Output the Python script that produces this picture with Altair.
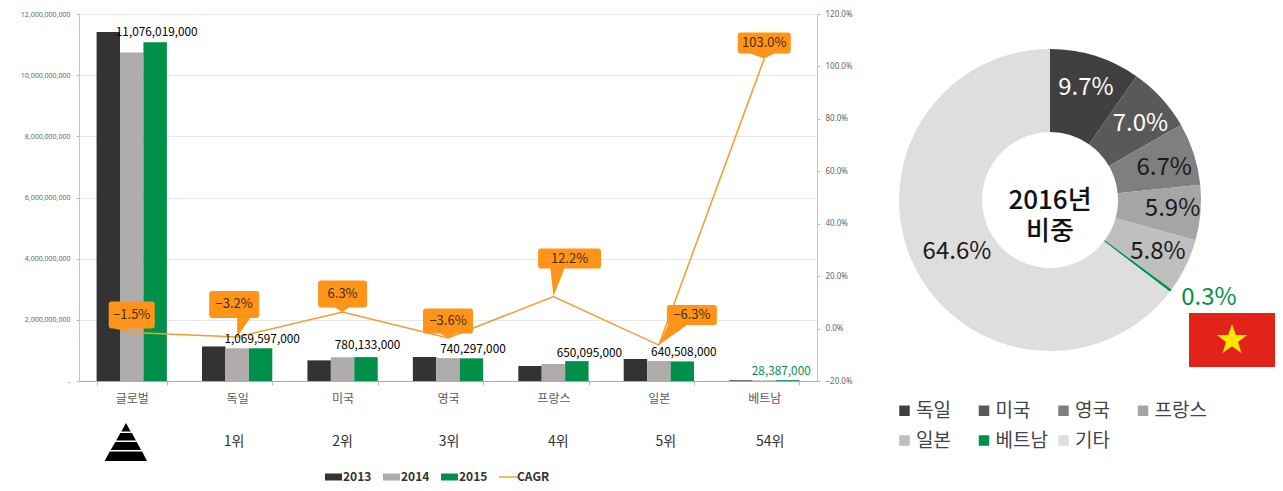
import altair as alt
import pandas as pd

# ---------- data ----------
categories = ["글로벌", "독일", "미국", "영국", "프랑스", "일본", "베트남"]
ranks = ["", "1위", "2위", "3위", "4위", "5위", "54위"]
v2013 = [11410000000, 1130000000, 675000000, 785000000, 490000000, 720000000, 23000000]
v2014 = [10740000000, 1070000000, 780000000, 750000000, 556000000, 655000000, 20000000]
v2015 = [11076019000, 1069597000, 780133000, 740297000, 650095000, 640508000, 28387000]
cagr = [-1.5, -3.2, 6.3, -3.6, 12.2, -6.3, 103.0]
cagr_text = ["−1.5%", "−3.2%", "6.3%", "−3.6%", "12.2%", "−6.3%", "103.0%"]
years = ["2013", "2014", "2015"]
share_names = ["독일", "미국", "영국", "프랑스", "일본", "베트남", "기타"]
share_vals = [9.7, 7.0, 6.7, 5.9, 5.8, 0.3, 64.6]

# ---------- styles ----------
FONT = "Noto Sans CJK KR"
ORANGE = "#FF9419"
LINE = "#F79A2E"
GREEN = "#00904A"
YEAR_COL = ["#333333", "#B0ACAC", GREEN]
SHARE_COL = ["#404040", "#595959", "#7F7F7F", "#A5A5A5", "#BFBFBF", GREEN, "#DEDEDE"]

bars_df = pd.DataFrame(
    [{"cat": c, "Year": y, "v": s[i]} for y, s in zip(years, [v2013, v2014, v2015]) for i, c in enumerate(categories)]
)
cagr_df = pd.DataFrame({"cat": categories, "cagr": cagr, "txt": cagr_text, "v": v2015, "rank": ranks})

P_W, P_H = 738, 367
x_enc = alt.X(
    "cat:N",
    title=None,
    sort=categories,
    scale=alt.Scale(type="band", domain=categories, paddingInner=1 / 3, paddingOuter=1 / 6),
    axis=alt.Axis(
        labelAngle=0, labelFont=FONT, labelFontSize=12, labelColor="#595959", labelPadding=8,
        tickBand="extent", tickColor="#BBBBBB", domainColor="#AAAAAA", tickSize=4, grid=False,
    ),
)
y_left_scale = alt.Scale(domain=[0, 12000000000])
y_pct_scale = alt.Scale(domain=[-20, 120])

bars = (
    alt.Chart(bars_df)
    .mark_bar()
    .encode(
        x=x_enc,
        xOffset=alt.XOffset("Year:N", scale=alt.Scale(domain=years)),
        y=alt.Y(
            "v:Q", title=None, scale=y_left_scale,
            axis=alt.Axis(
                values=[0, 2e9, 4e9, 6e9, 8e9, 10e9, 12e9],
                labelExpr="datum.value == 0 ? '-' : format(datum.value, ',')",
                labelFontSize=7, labelColor="#666666", labelFont="Noto Sans", labelPadding=6,
                tickSize=3, tickColor="#BBBBBB", domainColor="#C4C4C4",
                grid=True, gridColor="#E8E8E8", minExtent=71, maxExtent=71,
            ),
        ),
        color=alt.Color("Year:N", scale=alt.Scale(domain=years + ["CAGR"], range=YEAR_COL + [LINE]), legend=None),
    )
)

line = (
    alt.Chart(cagr_df)
    .mark_line(color=LINE, strokeWidth=1.5)
    .encode(
        x=x_enc,
        y=alt.Y(
            "cagr:Q", title=None, scale=y_pct_scale,
            axis=alt.Axis(
                orient="right", values=[-20, 0, 20, 40, 60, 80, 100, 120],
                labelExpr="format(datum.value, '.1f') + '%'",
                labelFontSize=8, labelColor="#666666", labelFont="Noto Sans", labelPadding=5,
                tickSize=3, tickColor="#BBBBBB", domainColor="#C4C4C4", grid=False,
                minExtent=40, maxExtent=40,
            ),
        ),
    )
)


def callout_path(x0, x1, y0, y1, b0, b1, r=3):
    return (
        f"M{x0+r},{y0} L{x1-r},{y0} Q{x1},{y0} {x1},{y0+r} L{x1},{y1-r} Q{x1},{y1} {x1-r},{y1} "
        f"L{b1},{y1} L0,0 L{b0},{y1} L{x0+r},{y1} Q{x0},{y1} {x0},{y1-r} L{x0},{y0+r} Q{x0},{y0} {x0+r},{y0} Z"
    )


# rectangle and pointer of each callout, relative to its line vertex (pixels)
callout_geo = [
    (-23, 23, -31, -4, -18, -6),
    (-28, 22, -46, -19, 0, 13),
    (-24.5, 24.5, -31.5, -4.5, -8, 6),
    (-25, 25, -29.5, -4.5, -8, 8),
    (-15.4, 47.6, -48, -28, -3, 11),
    (8, 58, -40, -20, 9, 28),
    (-26.5, 26.5, -26, -5, -14, 10),
]
y_pct_hidden = alt.Y("cagr:Q", title=None, scale=y_pct_scale, axis=None)
callouts = []
for i, g in enumerate(callout_geo):
    row = cagr_df.iloc[[i]]
    callouts.append(
        alt.Chart(row)
        .mark_point(shape=callout_path(*g), size=4, filled=True, color=ORANGE, opacity=1, strokeWidth=0)
        .encode(x=x_enc, y=y_pct_hidden)
    )
    callouts.append(
        alt.Chart(row)
        .mark_text(
            font=FONT, fontSize=13, color="#4A2C0A",
            dx=(g[0] + g[1]) / 2, dy=(g[2] + g[3]) / 2,
        )
        .encode(x=x_enc, y=y_pct_hidden, text="txt:N")
    )

# value labels over the 2015 bars
label_off = [(25, -10), (25, -9), (25, -12), (25, -9), (36, -8), (25, -9), (17, -9)]
y_val_hidden = alt.Y("v:Q", title=None, scale=y_left_scale, axis=None)
value_labels = []
for i, (dx, dy) in enumerate(label_off):
    value_labels.append(
        alt.Chart(cagr_df.iloc[[i]])
        .mark_text(
            font=FONT, fontSize=11.8, fontWeight=400, dx=dx, dy=dy,
            color=GREEN if i == 6 else "#000000",
        )
        .encode(x=x_enc, y=y_val_hidden, text=alt.Text("v:Q", format=","))
    )

# rank row
rank_dx = [0, -3, 0, 1, 5, 7, 6]
rank_layers = []
for i in range(1, 7):
    rank_layers.append(
        alt.Chart(cagr_df.iloc[[i]])
        .mark_text(font=FONT, fontSize=14, color="#333333", dx=rank_dx[i])
        .encode(x=x_enc, y=alt.value(428), text="rank:N")
    )

# pyramid icon next to the global column
pyramid_path = (
    "M-5.7,-19 L-1,-10.5 L-10.4,-10.5 Z "
    "M-11.4,-9 L0.2,-9 L4.2,-1.5 L-15.5,-1.5 Z "
    "M-16.4,0 L5,0 L9.4,8 L-21,8 Z "
    "M-22,9.5 L10.4,9.5 L15.3,19 L-27,19 Z"
)
pyramid = (
    alt.Chart(cagr_df.iloc[[0]])
    .mark_point(shape=pyramid_path, size=4, filled=True, color="#000000", opacity=1, strokeWidth=0)
    .encode(x=x_enc, y=alt.value(428))
)

# legend of the bar chart, drawn by the library from a shape + colour scale
series = years + ["CAGR"]
swatch = "M0,-3.5 L17,-3.5 L17,3.5 L0,3.5 Z"
cagr_sym = "M0,-0.7 L19,-0.7 L19,0.7 L0,0.7 Z"
bar_legend = alt.Legend(
    title=None, orient="none", legendX=240, legendY=457, direction="horizontal", columns=4,
    symbolSize=4, symbolStrokeWidth=0, symbolOpacity=1, labelOffset=12, columnPadding=5,
    labelFont=FONT, labelFontSize=12, labelFontWeight="bold", labelColor="#333333",
)
legend_layer = (
    alt.Chart(pd.DataFrame({"Series": series}))
    .mark_point(size=0, filled=True, opacity=0)
    .encode(
        x=alt.value(0), y=alt.value(0),
        color=alt.Color("Series:N", scale=alt.Scale(domain=series, range=YEAR_COL + [LINE]), legend=bar_legend),
        shape=alt.Shape("Series:N", scale=alt.Scale(domain=series, range=[swatch, swatch, swatch, cagr_sym]), legend=bar_legend),
    )
)

left = (
    alt.layer(bars, line, *callouts, *value_labels, *rank_layers, pyramid, legend_layer)
    .resolve_scale(y="independent", color="independent", shape="independent")
    .properties(width=P_W, height=P_H)
)

# ---------- donut ----------
share_df = pd.DataFrame({"name": share_names, "share": share_vals, "ord": list(range(len(share_names)))})
share_df["txt"] = share_df["share"].map(lambda v: f"{v:.1f}%")
D_W, D_H = 360, 372
theta_scale = alt.Scale(domain=[0, 100])
donut = (
    alt.Chart(share_df)
    .mark_arc(radius=151, radius2=68)
    .encode(
        theta=alt.Theta("share:Q", stack=True, scale=theta_scale),
        order=alt.Order("ord:Q"),
        color=alt.Color(
            "name:N",
            sort=share_names,
            scale=alt.Scale(domain=share_names, range=SHARE_COL),
            legend=alt.Legend(
                title=None, orient="none", legendX=25, legendY=387, direction="horizontal", columns=4,
                gridAlign="all", symbolType="square", symbolSize=110, symbolStrokeWidth=0,
                labelFont=FONT, labelFontSize=19, labelColor="#444444", labelOffset=2,
                columnPadding=5.5, rowPadding=10,
            ),
        ),
    )
)

# per-slice label: slice index, radius, colour, nudge
label_spec = [
    (0, 120, "#FFFFFF", 0, 2),
    (1, 120, "#FFFFFF", 2, 5),
    (2, 120, "#1A1A1A", 0, 5),
    (3, 120, "#1A1A1A", 3, -1),
    (4, 120, "#1A1A1A", 0, 0),
    (5, 185, GREEN, 11, -13),
    (6, 106, "#1A1A1A", 2, 5),
]
donut_labels = [
    alt.Chart(share_df)
    .transform_window(cum="sum(share)", sort=[alt.SortField("ord")])
    .transform_calculate(mid="datum.cum - datum.share / 2")
    .transform_filter(f"datum.ord == {idx}")
    .mark_text(radius=rad, font=FONT, fontSize=24, color=col, dx=dx, dy=dy)
    .encode(theta=alt.Theta("mid:Q", stack=None, scale=theta_scale), text="txt:N")
    for idx, rad, col, dx, dy in label_spec
]
center = [
    alt.Chart(pd.DataFrame({"t": [t]}))
    .mark_text(font=FONT, fontSize=26, fontWeight=500, color="#111111")
    .encode(x=alt.value(D_W / 2), y=alt.value(yy), text="t:N")
    for t, yy in [("2016년", 187), ("비중", 218)]
]
flag_path = "M-43,-27 L43,-27 L43,27 L-43,27 Z"
star_path = (
    "M0,-16 L3.8,-5 L15.2,-5 L6,1.9 L9.4,13 L0,6.2 L-9.4,13 L-6,1.9 L-15.2,-5 L-3.8,-5 Z"
)
one = pd.DataFrame({"k": ["vn"]})
flag = (
    alt.Chart(one)
    .mark_point(shape=flag_path, size=4, filled=True, color="#E2231A", opacity=1, strokeWidth=0)
    .encode(x=alt.value(362), y=alt.value(326))
)
star = (
    alt.Chart(one)
    .mark_point(shape=star_path, size=4, filled=True, color="#FFE600", opacity=1, strokeWidth=0)
    .encode(x=alt.value(362), y=alt.value(326))
)
right = alt.layer(donut, *donut_labels, *center, flag, star).properties(width=D_W, height=D_H)

chart = (
    alt.hconcat(left, right, spacing=13)
    .resolve_scale(color="independent", shape="independent")
    .properties(padding={"left": 0, "top": 2, "right": 0, "bottom": 0})
    .configure_view(stroke=None)
)
chart.save("out.html", embed_options={"renderer": "svg", "actions": False})
